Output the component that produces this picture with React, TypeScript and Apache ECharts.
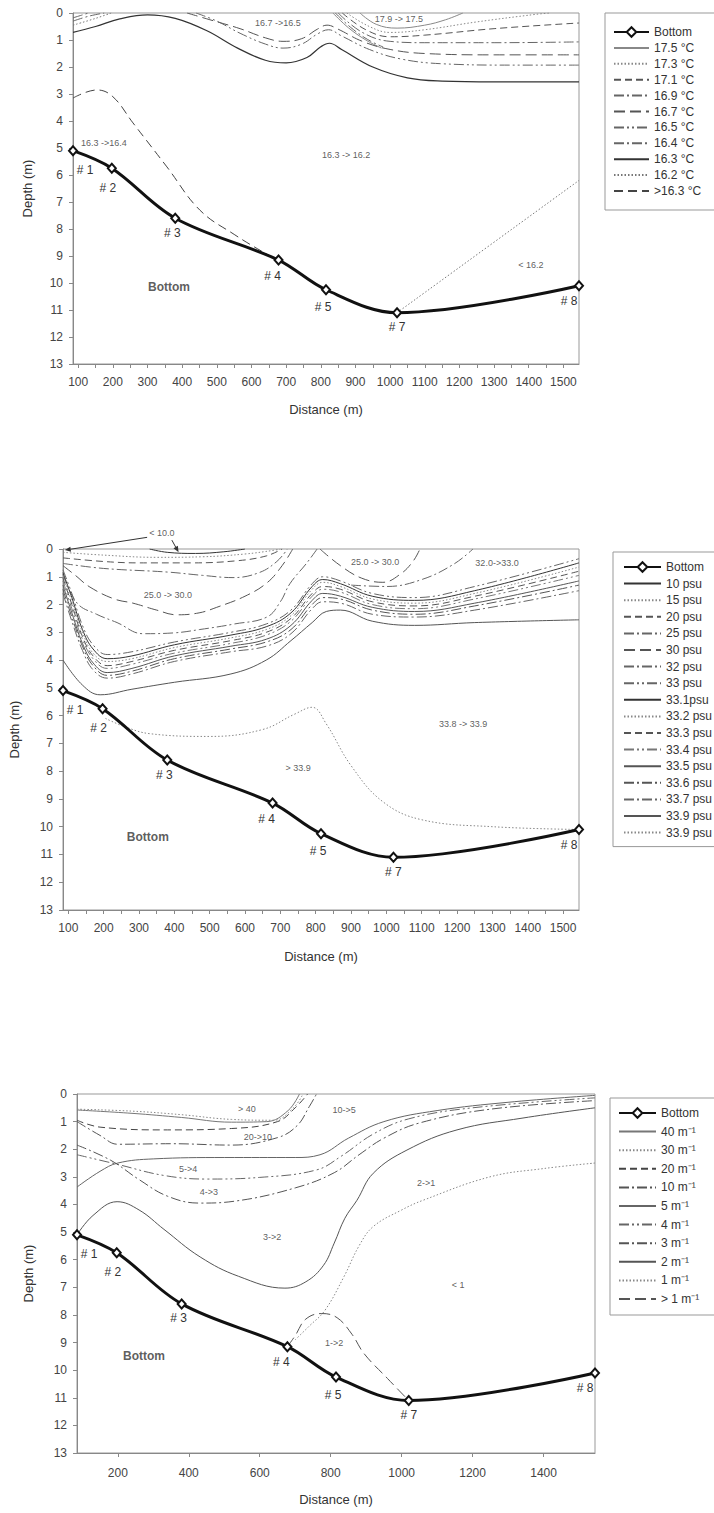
import React, { useEffect, useRef } from "react";
import * as echarts from "echarts";

// ---------------- shared data ----------------
const stationNames = ["# 1", "# 2", "# 3", "# 4", "# 5", "# 7", "# 8"];
const stationDistance = [85, 197, 380, 678, 815, 1020, 1545];
const bottomDepth = [5.1, 5.75, 7.6, 9.15, 10.25, 11.1, 10.1];
const stationLabelOffset = [[12, 5], [-4, 5], [-3, 0], [-6, 1], [-3, 3], [0, 0], [-10, 1]];

const distanceMin = 85;
const distanceMax = 1545;
const depthMin = 0;
const depthMax = 13;
const xLabelsTop = [100, 200, 300, 400, 500, 600, 700, 800, 900, 1000, 1100, 1200, 1300, 1400, 1500];
const xTicksTop = [100, 150, 200, 250, 300, 350, 400, 450, 500, 550, 600, 650, 700, 750, 800, 850, 900, 950, 1000, 1050, 1100, 1150, 1200, 1250, 1300, 1350, 1400, 1450, 1500];
const xLabelsBottom = [200, 400, 600, 800, 1000, 1200, 1400];

// ---------------- panel 1 : temperature ----------------
const t175 = [[913, 0], [960, 0.42], [1020, 0.56], [1100, 0.45], [1160, 0.25], [1210, 0]];
const t175b = [[835, 0], [880, 0.55], [930, 1.0], [975, 1.3]];
const t173 = [[875, 0], [940, 0.5], [1000, 0.72], [1100, 0.62], [1250, 0.33], [1420, 0.05], [1460, 0]];
const t171 = [[862, 0], [930, 0.62], [1000, 0.88], [1100, 0.82], [1300, 0.58], [1545, 0.37]];
const t169 = [[850, 0], [920, 0.72], [1000, 1.05], [1100, 1.1], [1300, 1.1], [1545, 1.07]];
const t167 = [[414, 0], [480, 0.25], [567, 0.58], [640, 0.92], [691, 1.05], [745, 0.95], [790, 0.6], [818, 0.45], [850, 0.6], [920, 1.05], [1000, 1.35], [1100, 1.5], [1300, 1.55], [1545, 1.55]];
const t165 = [[440, 0], [500, 0.3], [567, 0.75], [640, 1.15], [691, 1.3], [745, 1.15], [790, 0.78], [822, 0.62], [860, 0.85], [940, 1.35], [1030, 1.7], [1150, 1.88], [1350, 1.93], [1545, 1.93]];
const t164a = [[85, 0.18], [110, 0.08], [130, 0]];
const t164b = [[85, 0.3], [130, 0.12], [175, 0]];
const t164c = [[842, 0], [885, 0.52], [935, 0.98], [980, 1.26]];
const t163 = [[85, 0.72], [150, 0.5], [220, 0.22], [300, 0.07], [380, 0.2], [470, 0.65], [560, 1.3], [640, 1.75], [700, 1.85], [760, 1.65], [800, 1.25], [825, 1.12], [860, 1.35], [950, 2.0], [1050, 2.4], [1150, 2.52], [1300, 2.55], [1545, 2.55]];
const t162a = [[85, 0.45], [150, 0.2], [195, 0]];
const t162 = [[1020, 11.1], [1545, 6.2]];
const tAbove163 = [[85, 3.15], [154, 2.85], [200, 3.1], [258, 4.07], [356, 5.7], [451, 7.3], [550, 8.2], [648, 8.96], [678, 9.15]];

const tempNotes = [
  { text: "16.7 ->16.5", x: 676, y: 0.38 },
  { text: "17.9 -> 17.5", x: 1025, y: 0.22 },
  { text: "16.3 ->16.4", x: 174, y: 4.8 },
  { text: "16.3 -> 16.2", x: 873, y: 5.26 },
  { text: "< 16.2", x: 1406, y: 9.33 },
];
const tempBottomNote = [362, 10.15];

// ---------------- panel 2 : salinity ----------------
const s10 = [[330, 0], [380, 0.12], [460, 0.16], [540, 0.1], [600, 0]];
const s15 = [[85, 0.12], [200, 0.22], [350, 0.3], [480, 0.28], [600, 0.18], [680, 0.05], [700, 0]];
const s20 = [[85, 0.32], [200, 0.45], [300, 0.5], [450, 0.5], [580, 0.42], [660, 0.25], [705, 0]];
const s25 = [[85, 0.52], [200, 0.7], [380, 0.83], [480, 0.95], [566, 1.03], [640, 0.85], [690, 0.45], [720, 0]];
const s30a = [[85, 0.6], [120, 0.95], [161, 1.37], [230, 1.8], [283, 1.95], [350, 2.2], [407, 2.37], [470, 2.3], [520, 2.1], [600, 1.7], [662, 1.22], [705, 0.6], [735, 0]];
const s30b = [[812, 0], [870, 0.6], [930, 1.05], [990, 1.2], [1040, 0.9], [1075, 0.45], [1095, 0]];
const s32a = [[85, 0.9], [125, 1.95], [180, 2.35], [238, 2.65], [311, 3.05], [400, 3.02], [472, 2.9], [570, 2.7], [662, 2.45], [700, 1.9], [727, 1.25], [775, 0.5], [804, 0]];
const s32b = [[900, 1.3], [1000, 1.35], [1100, 1.1], [1190, 0.55], [1245, 0]];
const bundleDistance = [85, 110, 140, 170, 210, 280, 400, 560, 660, 730, 790, 820, 870, 960, 1080, 1250, 1545];
const s33 = [0.75, 1.6, 2.75, 3.45, 3.8, 3.7, 3.35, 3.0, 2.7, 2.2, 1.25, 1.0, 1.15, 1.6, 1.75, 1.35, 0.35];
const s331 = [0.85, 1.75, 2.9, 3.6, 3.95, 3.85, 3.45, 3.1, 2.8, 2.3, 1.35, 1.1, 1.25, 1.7, 1.85, 1.5, 0.5];
const s332 = [0.95, 1.9, 3.0, 3.75, 4.05, 3.95, 3.55, 3.2, 2.9, 2.4, 1.45, 1.2, 1.35, 1.8, 1.95, 1.6, 0.65];
const s333 = [1.05, 2.0, 3.15, 3.85, 4.2, 4.05, 3.65, 3.3, 3.0, 2.5, 1.6, 1.35, 1.45, 1.9, 2.05, 1.7, 0.8];
const s334 = [1.15, 2.15, 3.25, 3.95, 4.3, 4.15, 3.75, 3.4, 3.1, 2.6, 1.7, 1.45, 1.55, 2.0, 2.15, 1.8, 0.95];
const s335 = [1.3, 2.3, 3.4, 4.1, 4.45, 4.3, 3.85, 3.5, 3.25, 2.75, 1.85, 1.6, 1.7, 2.1, 2.25, 1.95, 1.15];
const s336 = [1.45, 2.45, 3.5, 4.2, 4.55, 4.4, 3.95, 3.6, 3.35, 2.9, 2.0, 1.75, 1.8, 2.2, 2.35, 2.05, 1.3];
const s337 = [1.6, 2.6, 3.65, 4.35, 4.65, 4.5, 4.05, 3.7, 3.5, 3.05, 2.15, 1.9, 1.95, 2.35, 2.45, 2.2, 1.5];
const s339 = [[85, 4.0], [140, 4.9], [190, 5.25], [280, 5.05], [400, 4.8], [560, 4.5], [660, 4.0], [730, 3.3], [790, 2.65], [830, 2.25], [870, 2.2], [960, 2.6], [1080, 2.75], [1250, 2.65], [1545, 2.55]];
const s339dot = [[205, 6.1], [260, 6.4], [330, 6.65], [500, 6.75], [650, 6.5], [740, 5.95], [790, 5.7], [830, 6.3], [900, 7.8], [990, 9.1], [1100, 9.75], [1300, 10.0], [1545, 10.1]];

const salNotes = [
  { text: "< 10.0", x: 365, y: -0.58 },
  { text: "25.0 -> 30.0", x: 382, y: 1.65 },
  { text: "25.0 -> 30.0", x: 968, y: 0.47 },
  { text: "32.0->33.0", x: 1313, y: 0.5 },
  { text: "33.8 -> 33.9", x: 1217, y: 6.3 },
  { text: "> 33.9", x: 750, y: 7.9 },
];
const salArrows = [
  [[323, -0.42], [90, 0.04]],
  [[393, -0.32], [412, 0.12]],
];
const salBottomNote = [325, 10.36];

// ---------------- panel 3 : attenuation ----------------
const a40 = [[85, 0.58], [240, 0.7], [380, 0.85], [520, 1.02], [620, 1.0], [680, 0.6], [712, 0]];
const a30 = [[85, 0.55], [240, 0.62], [380, 0.75], [520, 0.92], [640, 0.95], [695, 0.5], [722, 0]];
const a20 = [[85, 0.95], [150, 1.2], [340, 1.3], [520, 1.25], [650, 1.0], [700, 0.5], [735, 0]];
const a10 = [[85, 1.0], [150, 1.5], [200, 1.82], [350, 1.8], [520, 1.85], [650, 1.58], [705, 1.15], [740, 0.45], [760, 0]];
const a5 = [[85, 3.37], [150, 2.8], [200, 2.5], [300, 2.35], [500, 2.3], [700, 2.3], [770, 2.2], [850, 1.6], [950, 1.0], [1100, 0.6], [1300, 0.3], [1545, 0.05]];
const a4 = [[85, 2.2], [200, 2.55], [330, 2.95], [450, 3.08], [600, 3.02], [760, 2.75], [830, 2.25], [920, 1.45], [1020, 0.9], [1200, 0.5], [1545, 0.14]];
const a3 = [[85, 1.85], [180, 2.4], [260, 3.1], [340, 3.7], [430, 3.95], [530, 3.88], [700, 3.4], [810, 2.85], [880, 2.2], [950, 1.6], [1050, 1.05], [1250, 0.55], [1545, 0.24]];
const a2 = [[85, 5.1], [130, 4.4], [198, 3.9], [260, 4.2], [330, 4.9], [432, 5.9], [540, 6.6], [671, 7.03], [730, 6.8], [780, 6.2], [810, 5.4], [840, 4.5], [874, 3.85], [920, 2.87], [1015, 2.03], [1156, 1.3], [1342, 0.87], [1545, 0.5]];
const a1 = [[700, 8.9], [740, 8.4], [784, 7.83], [838, 6.6], [880, 5.5], [920, 4.8], [1000, 4.2], [1060, 3.85], [1249, 3.0], [1400, 2.7], [1545, 2.5]];
const aAbove1 = [[678, 9.15], [700, 8.75], [730, 8.15], [775, 7.95], [818, 8.1], [860, 8.7], [894, 9.4], [960, 10.3], [1020, 11.1]];

const attNotes = [
  { text: "> 40", x: 564, y: 0.55 },
  { text: "20->10", x: 595, y: 1.55 },
  { text: "10->5", x: 838, y: 0.58 },
  { text: "5->4", x: 398, y: 2.7 },
  { text: "4->3", x: 457, y: 3.55 },
  { text: "3->2", x: 635, y: 5.17 },
  { text: "2->1", x: 1069, y: 3.22 },
  { text: "< 1", x: 1159, y: 6.9 },
  { text: "1->2", x: 810, y: 9.0 },
];
const attBottomNote = [274, 9.5];

// ---------------- styles ----------------
const FONT = "'Liberation Sans', Arial, sans-serif";
const DOT = [1.5, 2];
const DASH = [7, 4];
const LDASH = [11, 5];
const DASHDOT = [10, 3, 2, 3];
const DASHDOTDOT = [10, 3, 2, 3, 2, 3];

function st(color: string, type: any, width = 1) {
  return { color, type, width };
}

const pairs = (xs: number[], ys: number[]) => xs.map((x, i) => [x, ys[i]]);

const tempContours = [
  { name: "17.5 °C", segs: [t175, t175b], style: st("#888", "solid") },
  { name: "17.3 °C", segs: [t173], style: st("#888", DOT) },
  { name: "17.1 °C", segs: [t171], style: st("#555", DASH) },
  { name: "16.9 °C", segs: [t169], style: st("#666", DASHDOT) },
  { name: "16.7 °C", segs: [t167], style: st("#555", LDASH) },
  { name: "16.5 °C", segs: [t165], style: st("#666", DASHDOTDOT) },
  { name: "16.4 °C", segs: [t164a, t164b, t164c], style: st("#666", DASHDOT) },
  { name: "16.3 °C", segs: [t163], style: st("#333", "solid", 1.2) },
  { name: "16.2 °C", segs: [t162, t162a], style: st("#777", DOT) },
  { name: ">16.3 °C", segs: [tAbove163], style: st("#444", [9, 5]) },
];

const salContours = [
  { name: "10 psu", segs: [s10], style: st("#333", "solid") },
  { name: "15 psu", segs: [s15], style: st("#888", DOT) },
  { name: "20 psu", segs: [s20], style: st("#555", DASH) },
  { name: "25 psu", segs: [s25], style: st("#666", DASHDOT) },
  { name: "30 psu", segs: [s30a, s30b], style: st("#555", LDASH) },
  { name: "32 psu", segs: [s32a, s32b], style: st("#666", DASHDOT) },
  { name: "33 psu", segs: [pairs(bundleDistance, s33)], style: st("#666", DASHDOTDOT) },
  { name: "33.1psu", segs: [pairs(bundleDistance, s331)], style: st("#333", "solid") },
  { name: "33.2 psu", segs: [pairs(bundleDistance, s332)], style: st("#888", DOT) },
  { name: "33.3 psu", segs: [pairs(bundleDistance, s333)], style: st("#555", DASH) },
  { name: "33.4 psu", segs: [pairs(bundleDistance, s334)], style: st("#777", DASHDOTDOT) },
  { name: "33.5 psu", segs: [pairs(bundleDistance, s335)], style: st("#555", "solid") },
  { name: "33.6 psu", segs: [pairs(bundleDistance, s336)], style: st("#555", DASHDOT) },
  { name: "33.7 psu", segs: [pairs(bundleDistance, s337)], style: st("#666", DASHDOT) },
  { name: "33.9 psu", segs: [s339], style: st("#555", "solid") },
  { name: "33.9 psu ", segs: [s339dot], style: st("#888", DOT) },
];

const attContours = [
  { name: "40 m⁻¹", segs: [a40], style: st("#777", "solid") },
  { name: "30 m⁻¹", segs: [a30], style: st("#888", DOT) },
  { name: "20 m⁻¹", segs: [a20], style: st("#444", DASH) },
  { name: "10 m⁻¹", segs: [a10], style: st("#555", DASHDOT) },
  { name: "5 m⁻¹", segs: [a5], style: st("#666", "solid") },
  { name: "4 m⁻¹", segs: [a4], style: st("#666", DASHDOTDOT) },
  { name: "3 m⁻¹", segs: [a3], style: st("#555", DASHDOT) },
  { name: "2 m⁻¹", segs: [a2], style: st("#555", "solid") },
  { name: "1 m⁻¹", segs: [a1], style: st("#888", DOT) },
  { name: "> 1 m⁻¹", segs: [aAbove1], style: st("#555", LDASH) },
];

const panels = [
  {
    grid: { left: 73, top: 13, width: 506, height: 351 },
    contours: tempContours, notes: tempNotes, bottomNote: tempBottomNote, arrows: [] as number[][][],
    xLabels: xLabelsTop, xTicks: xTicksTop, xNameGap: 39, xLabelMargin: 12, yNameGap: 39,
    legend: { left: 605, top: 13, itemWidth: 35, itemGap: 3.9, padding: [13, 45, 13, 8] },
  },
  {
    grid: { left: 63, top: 549, width: 516, height: 361 },
    contours: salContours, notes: salNotes, bottomNote: salBottomNote, arrows: salArrows,
    xLabels: xLabelsTop, xTicks: xTicksTop, xNameGap: 40, xLabelMargin: 12, yNameGap: 42,
    legend: { left: 613, top: 552, itemWidth: 37, itemGap: 4.6, padding: [9, 45, 8, 10] },
  },
  {
    grid: { left: 77, top: 1094, width: 518, height: 359 },
    contours: attContours, notes: attNotes, bottomNote: attBottomNote, arrows: [] as number[][][],
    xLabels: xLabelsBottom, xTicks: xLabelsBottom, xNameGap: 40, xLabelMargin: 14, yNameGap: 42,
    legend: { left: 610, top: 1098, itemWidth: 37, itemGap: 6.6, padding: [9, 45, 10, 8] },
  },
];

function buildOption() {
  const grid: any[] = [];
  const xAxis: any[] = [];
  const yAxis: any[] = [];
  const series: any[] = [];
  const legend: any[] = [];

  panels.forEach((p, gi) => {
    grid.push({ ...p.grid, show: true, borderColor: "#999", borderWidth: 1, backgroundColor: "transparent" });
    xAxis.push({
      type: "value", gridIndex: gi, min: distanceMin, max: distanceMax, position: "bottom",
      name: "Distance (m)", nameLocation: "middle", nameGap: p.xNameGap,
      nameTextStyle: { fontSize: 13, color: "#333", fontFamily: FONT },
      axisLine: { show: true, onZero: false, lineStyle: { color: "#888" } },
      axisTick: { show: true, customValues: p.xTicks, length: 4, lineStyle: { color: "#888" } },
      axisLabel: {
        customValues: p.xLabels, fontSize: 12, color: "#444", fontFamily: FONT, margin: p.xLabelMargin,
        formatter: (v: number) => String(Math.round(v)),
      },
      splitLine: { show: false },
    });
    yAxis.push({
      type: "value", gridIndex: gi, inverse: true, min: depthMin, max: depthMax, interval: 1,
      name: "Depth (m)", nameLocation: "middle", nameGap: p.yNameGap,
      nameTextStyle: { fontSize: 13, color: "#333", fontFamily: FONT },
      axisLine: { show: true, onZero: false, lineStyle: { color: "#888" } },
      axisTick: { show: true, length: 4, lineStyle: { color: "#888" } },
      axisLabel: { fontSize: 12, color: "#444", fontFamily: FONT, margin: 10 },
      splitLine: { show: false },
    });

    p.contours.forEach((c) => {
      c.segs.forEach((seg) => {
        series.push({
          type: "line", name: c.name, xAxisIndex: gi, yAxisIndex: gi, data: seg,
          smooth: 0.4, symbol: "none", showSymbol: false, lineStyle: c.style,
          itemStyle: { color: c.style.color }, silent: true, z: 2,
        });
      });
    });

    series.push({
      type: "line", name: "Bottom", xAxisIndex: gi, yAxisIndex: gi, smooth: 0.35,
      data: stationDistance.map((d, i) => ({
        value: [d, bottomDepth[i]],
        label: { offset: stationLabelOffset[i] },
      })),
      symbol: "emptyDiamond", symbolSize: [8, 9], showSymbol: true,
      itemStyle: { color: "#111", borderColor: "#111", borderWidth: 1.5 },
      lineStyle: { color: "#111", width: 3 },
      label: {
        show: true, position: "bottom", distance: 3, fontSize: 12, color: "#333", fontFamily: FONT,
        formatter: (prm: any) => stationNames[prm.dataIndex],
      },
      silent: true, z: 4, clip: false,
    });

    series.push({
      type: "scatter", name: "notes" + gi, xAxisIndex: gi, yAxisIndex: gi,
      data: p.notes.map((n) => [n.x, n.y, n.text]),
      symbolSize: 1, itemStyle: { color: "rgba(0,0,0,0)" }, clip: false, silent: true, z: 5,
      label: {
        show: true, position: "inside", fontSize: 9, color: "#333", fontFamily: FONT,
        formatter: (prm: any) => prm.data[2],
      },
    });

    series.push({
      type: "scatter", name: "bottomNote" + gi, xAxisIndex: gi, yAxisIndex: gi,
      data: [[p.bottomNote[0], p.bottomNote[1], "Bottom"]],
      symbolSize: 1, itemStyle: { color: "rgba(0,0,0,0)" }, silent: true, z: 5,
      label: {
        show: true, position: "inside", fontSize: 12, fontWeight: "bold", color: "#333", fontFamily: FONT,
        formatter: (prm: any) => prm.data[2],
      },
    });

    legend.push({
      data: [
        { name: "Bottom" },
        ...p.contours.map((c) => ({ name: c.name, itemStyle: { opacity: 0 } })),
      ],
      orient: "vertical", left: p.legend.left, top: p.legend.top,
      itemWidth: p.legend.itemWidth, itemHeight: 12, itemGap: p.legend.itemGap,
      padding: p.legend.padding, borderColor: "#999", borderWidth: 1,
      backgroundColor: "#fff", selectedMode: false,
      textStyle: { fontSize: 12, color: "#333", fontFamily: FONT, lineHeight: 12 },
    });
  });

  return { animation: false, backgroundColor: "#fff", grid, xAxis, yAxis, series, legend };
}

function arrowGraphics(chart: any) {
  const els: any[] = [];
  panels.forEach((p, gi) => {
    p.arrows.forEach((a) => {
      const p0 = chart.convertToPixel({ xAxisIndex: gi, yAxisIndex: gi }, a[0]);
      const p1 = chart.convertToPixel({ xAxisIndex: gi, yAxisIndex: gi }, a[1]);
      if (!p0 || !p1) return;
      const dx = p1[0] - p0[0];
      const dy = p1[1] - p0[1];
      const len = Math.sqrt(dx * dx + dy * dy) || 1;
      const ux = dx / len;
      const uy = dy / len;
      const hl = 6;
      const hw = 2.5;
      const bx = p1[0] - ux * hl;
      const by = p1[1] - uy * hl;
      els.push({
        type: "line", silent: true, z: 10,
        shape: { x1: p0[0], y1: p0[1], x2: bx, y2: by },
        style: { stroke: "#333", lineWidth: 1 },
      });
      els.push({
        type: "polygon", silent: true, z: 10,
        shape: { points: [[p1[0], p1[1]], [bx - uy * hw, by + ux * hw], [bx + uy * hw, by - ux * hw]] },
        style: { fill: "#333" },
      });
    });
  });
  return els;
}

export default function App() {
  const ref = useRef<HTMLDivElement>(null);
  useEffect(() => {
    if (!ref.current) return;
    const chart = echarts.init(ref.current, undefined, { renderer: "svg" });
    chart.setOption(buildOption() as any);
    chart.setOption({ graphic: arrowGraphics(chart) } as any);
    return () => chart.dispose();
  }, []);
  return <div ref={ref} style={{ position: "absolute", left: 0, top: 0, width: 714, height: 1513 }} />;
}
